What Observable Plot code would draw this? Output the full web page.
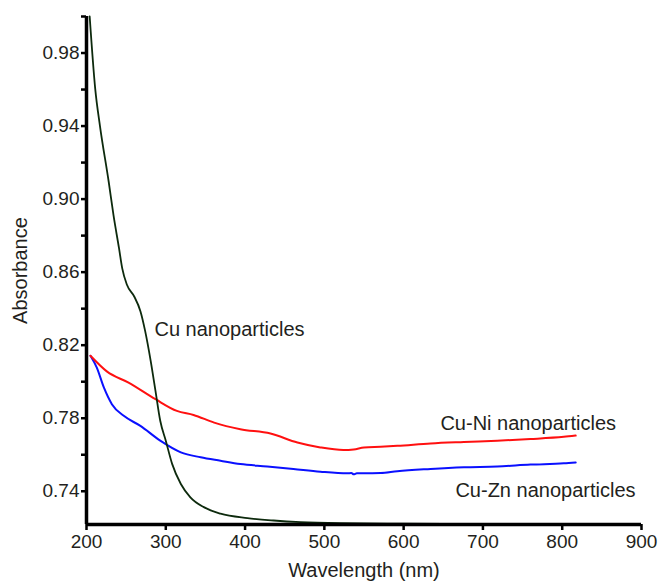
<!DOCTYPE html>
<html>
<head>
<meta charset="utf-8">
<script src="https://cdn.jsdelivr.net/npm/d3@7"></script>
<script src="https://cdn.jsdelivr.net/npm/@observablehq/plot@0.6"></script>
<style>
  html, body { margin: 0; padding: 0; background: #fff; }
  #chart { width: 658px; height: 581px; }
</style>
</head>
<body>
<div id="chart"></div>
<script>
// Cu nanoparticles (dark green/black curve)
const cuWavelength = [204, 211, 217, 228, 234, 241, 245, 251, 260, 268, 274, 281, 287, 293, 300, 308, 319, 331, 348, 369, 403, 436, 470, 520, 600, 690];
const cuAbsorbance = [1.0, 0.9604, 0.940, 0.9095, 0.8913, 0.8731, 0.8622, 0.8531, 0.8468, 0.8386, 0.8277, 0.8113, 0.795, 0.7786, 0.7677, 0.755, 0.744, 0.7367, 0.7313, 0.7277, 0.7253, 0.724, 0.7231, 0.7225, 0.7222, 0.7220];

// Cu-Ni nanoparticles (red)
const cuNiWavelength = [205, 226, 253, 287, 314, 335, 361, 394, 432, 466, 495, 524, 537, 550, 571, 592, 634, 676, 718, 760, 802, 817];
const cuNiAbsorbance = [0.8142, 0.8055, 0.7995, 0.7904, 0.784, 0.7818, 0.7776, 0.774, 0.7716, 0.7667, 0.764, 0.7626, 0.7629, 0.764, 0.7644, 0.7649, 0.7662, 0.767, 0.7677, 0.7686, 0.7698, 0.7705];

// Cu-Zn nanoparticles (blue)
const cuZnWavelength = [205, 213, 222, 232, 247, 268, 293, 319, 344, 369, 394, 428, 461, 495, 529, 534, 537, 541, 550, 571, 592, 634, 676, 718, 760, 802, 817];
const cuZnAbsorbance = [0.8142, 0.8077, 0.7967, 0.7877, 0.7813, 0.7758, 0.7677, 0.7613, 0.7586, 0.7567, 0.7549, 0.7536, 0.7522, 0.7507, 0.7498, 0.7500, 0.7493, 0.7498, 0.7498, 0.750, 0.751, 0.7522, 0.7531, 0.7536, 0.7546, 0.7553, 0.7558];

// Tick values
const xTicks = [200, 300, 400, 500, 600, 700, 800, 900];
const yLabelTicks = [0.74, 0.78, 0.82, 0.86, 0.90, 0.94, 0.98];
const yMinorTicks = [0.76, 0.80, 0.84, 0.88, 0.92, 0.96, 1.00];

// Annotations
const labelTexts = ["Cu nanoparticles", "Cu-Ni nanoparticles", "Cu-Zn nanoparticles"];
const labelX = [285.7, 646.4, 665.3];
const labelY = [0.8288, 0.7769, 0.7404];

const xLabel = "Wavelength (nm)";
const yLabel = "Absorbance";

const xDomain = [200, 900];
const yDomain = [0.7218, 1.0];

const toRows = (xs, ys) => xs.map((x, i) => ({x, y: ys[i]}));
const labels = labelTexts.map((t, i) => ({t, x: labelX[i], y: labelY[i]}));

const textColor = "#231f20";
const chart = Plot.plot({
  width: 658,
  height: 581,
  marginLeft: 86,
  marginRight: 17,
  marginTop: 16,
  marginBottom: 57,
  style: {fontFamily: "'Liberation Sans', Arial, Helvetica, sans-serif", fontSize: "19px", color: textColor, background: "#fff"},
  x: {domain: xDomain},
  y: {domain: yDomain},
  marks: [
    Plot.axisX(xTicks, {tickSize: 6, tickPadding: 4, strokeWidth: 2.5, label: null, fontSize: 19, fill: textColor, stroke: "#000"}),
    Plot.axisY(yLabelTicks, {tickSize: 5, tickPadding: 2, strokeWidth: 2.5, label: null, fontSize: 19, fill: textColor, stroke: "#000", tickFormat: d => d.toFixed(2)}),
    Plot.axisY(yMinorTicks, {tickSize: 5, strokeWidth: 2.5, label: null, tickFormat: () => "", stroke: "#000"}),
    Plot.line(toRows(cuZnWavelength, cuZnAbsorbance), {x: "x", y: "y", stroke: "#0a10ff", strokeWidth: 2, curve: "monotone-x"}),
    Plot.line(toRows(cuNiWavelength, cuNiAbsorbance), {x: "x", y: "y", stroke: "#ff1010", strokeWidth: 2, curve: "monotone-x"}),
    Plot.line(toRows(cuWavelength, cuAbsorbance), {x: "x", y: "y", stroke: "#0d2a0d", strokeWidth: 1.8, curve: "monotone-x"}),
    Plot.ruleX([xDomain[0]], {stroke: "#000", strokeWidth: 3.5}),
    Plot.ruleY([yDomain[0]], {stroke: "#000", strokeWidth: 3.5}),
    Plot.text(labels, {x: "x", y: "y", text: "t", textAnchor: "start", lineAnchor: "middle", fontSize: 20, fill: textColor}),
    Plot.text([xLabel], {frameAnchor: "bottom", dy: 46, text: d => d, textAnchor: "middle", lineAnchor: "middle", fontSize: 20, fill: textColor}),
    Plot.text([yLabel], {frameAnchor: "left", dx: -66, rotate: -90, text: d => d, textAnchor: "middle", lineAnchor: "middle", fontSize: 20, fill: textColor})
  ]
});
document.getElementById("chart").appendChild(chart);
</script>
</body>
</html>
